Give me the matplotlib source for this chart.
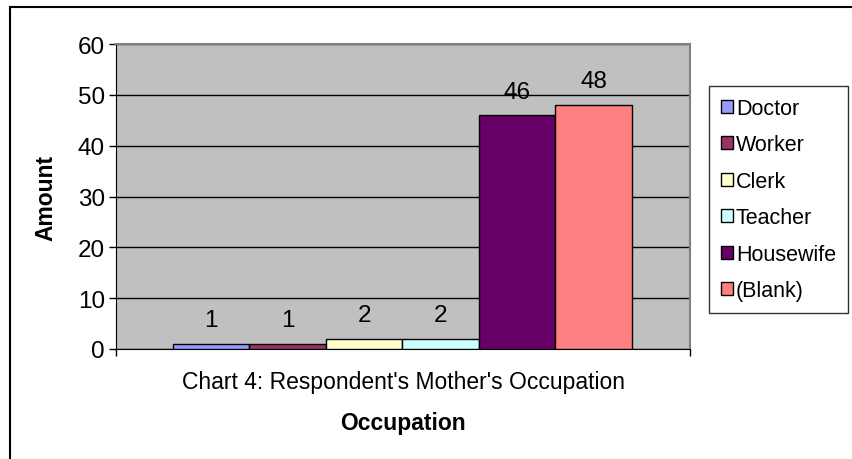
import matplotlib.pyplot as plt
from matplotlib.patches import Rectangle, Patch

# chart data
occupations = ["Doctor", "Worker", "Clerk", "Teacher", "Housewife", "(Blank)"]
amounts = [1, 1, 2, 2, 46, 48]
bar_colors = ["#9999FF", "#993366", "#FFFFCC", "#CCFFFF", "#660066", "#FF8080"]
y_ticks = [0, 10, 20, 30, 40, 50, 60]

plt.rcParams['font.family'] = ['Liberation Sans', 'DejaVu Sans']
FS = 16.5

W, H = 852, 460
fig = plt.figure(figsize=(W / 100, H / 100), dpi=100)

# plot area in pixels: x 116..690, y 45..350
ax = fig.add_axes([116 / W, 1 - 350 / H, (690 - 116) / W, (350 - 45) / H])
ax.set_facecolor("#C0C0C0")

xs = list(range(len(occupations)))
bars = ax.bar(xs, amounts, width=1.0, color=bar_colors, edgecolor="black",
              linewidth=1.0, zorder=3)

# value labels above the bars
for x, v in zip(xs, amounts):
    ax.annotate(str(v), (x, v), xytext=(0, 17), textcoords="offset points",
                ha="center", va="center", fontsize=17.5, zorder=4)

ax.set_xlim(-0.5 - 0.745, 5.5 + 0.76)
ax.set_ylim(0, 60)
ax.set_yticks(y_ticks)
ax.tick_params(axis="y", labelsize=17.5, length=5, width=1, direction="out", pad=3)
ax.set_xticks([-0.5 - 0.745, 5.5 + 0.76])
ax.set_xticklabels([])
ax.tick_params(axis="x", length=5, width=1, direction="out")
ax.yaxis.grid(True, color="black", linewidth=1, zorder=1)
ax.set_axisbelow(True)

for side in ["top", "right"]:
    ax.spines[side].set_color("#808080")
    ax.spines[side].set_linewidth(1.5)
ax.spines["left"].set_color("black")
ax.spines["bottom"].set_color("black")

# texts under the chart
cx = (116 + 690) / 2 / W
fig.text(cx, 1 - 383 / H, "Chart 4: Respondent's Mother's Occupation",
         ha="center", va="center", fontsize=FS)
fig.text(cx, 1 - 424 / H, "Occupation", ha="center", va="center",
         fontsize=FS, fontweight="bold")
fig.text(46 / W, 1 - 198 / H, "Amount", ha="center", va="center",
         fontsize=FS, fontweight="bold", rotation=90)

# legend
handles = [Patch(facecolor=c, edgecolor="black", linewidth=1) for c in bar_colors]
leg = fig.legend(handles, occupations, loc="upper left",
                 bbox_to_anchor=(709 / W, 1 - 87 / H), fontsize=15.5,
                 frameon=True, fancybox=False, handlelength=0.55,
                 handleheight=0.55, handletextpad=0.15, labelspacing=0.72,
                 borderpad=0.55, borderaxespad=0)
leg.get_frame().set_edgecolor("black")
leg.get_frame().set_linewidth(1)

# outer chart border (runs off the right and bottom edges)
fig.patches.append(Rectangle((10 / W, -0.05), 1.0, 1 - 8 / H + 0.05,
                             transform=fig.transFigure, fill=False,
                             edgecolor="black", linewidth=1.5, clip_on=False))

fig.savefig("out.png", dpi=100)
